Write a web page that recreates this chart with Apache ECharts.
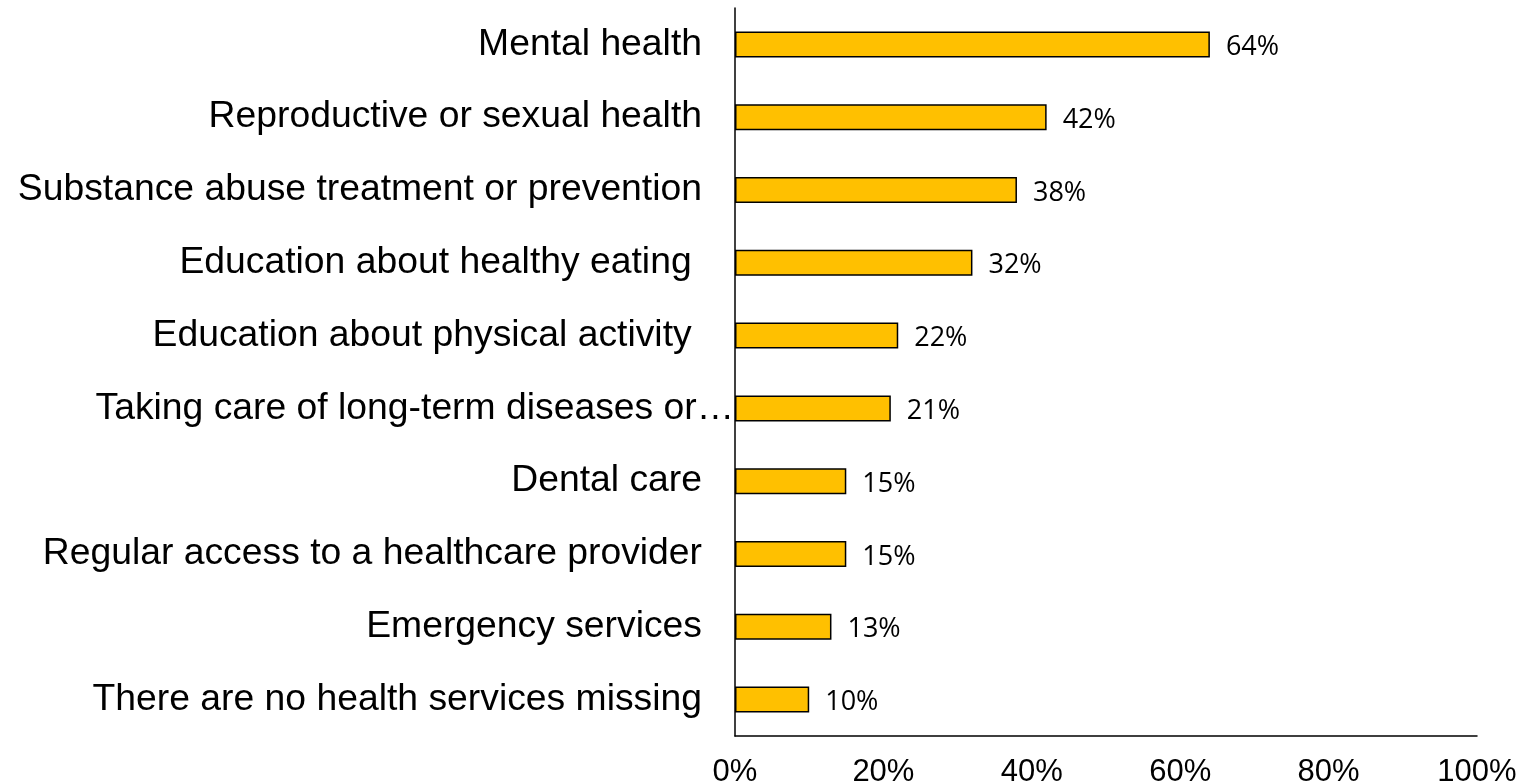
<!DOCTYPE html>
<html>
<head>
<meta charset="utf-8">
<script src="https://cdn.jsdelivr.net/npm/echarts@6/dist/echarts.min.js"></script>
<style>
  html, body { margin: 0; padding: 0; background: #fff; }
  #chart { width: 1522px; height: 783px; }
</style>
</head>
<body>
<div id="chart"></div>
<script>
// top to bottom, as in the picture
const categories = [
  "Mental health",
  "Reproductive or sexual health",
  "Substance abuse treatment or prevention",
  "Education about healthy eating ",
  "Education about physical activity ",
  "Taking care of long-term diseases or…",
  "Dental care",
  "Regular access to a healthcare provider",
  "Emergency services",
  "There are no health services missing",
];
const values = [64, 42, 38, 32, 22, 21, 15, 15, 13, 10];
const xTicks = [0, 20, 40, 60, 80, 100];

const chart = echarts.init(document.getElementById("chart"));

chart.setOption({
  animation: false,
  grid: { left: 735, right: 45, top: 8, bottom: 47, outerBoundsMode: "none" },
  xAxis: {
    type: "value",
    min: xTicks[0],
    max: xTicks[xTicks.length - 1],
    interval: xTicks[1] - xTicks[0],
    axisLine: { show: true, lineStyle: { color: "#000", width: 1.5 } },
    axisTick: { show: false },
    splitLine: { show: false },
    axisLabel: {
      margin: 21,
      color: "#000",
      fontSize: 31,
      fontFamily: "'Liberation Sans Narrow', 'Liberation Sans', Arial, sans-serif",
      formatter: (v) => v + "%",
    },
  },
  yAxis: {
    type: "category",
    inverse: true,
    data: categories,
    axisLine: { show: true, lineStyle: { color: "#000", width: 1.5 } },
    axisTick: { show: false },
    axisLabel: {
      margin: 0,
      color: "#000",
      fontSize: 37.3,
      fontFamily: "'Liberation Sans', Arial, sans-serif",
      formatter: (v) => (v.endsWith("…") ? "{t|" + v + "}" : "{n|" + v + "}"),
      rich: {
        n: { padding: [0, 33, 0, 0] },
        t: { padding: [0, 1, 0, 0] },
      },
    },
  },
  series: [
    {
      type: "bar",
      data: values,
      barWidth: 26,
      itemStyle: { color: "#FFC000", borderColor: "#000", borderWidth: 1.5 },
      label: {
        show: true,
        position: "right",
        distance: 16,
        offset: [0, 3],
        color: "#000",
        fontSize: 27,
        fontFamily: "'Open Sans', 'Noto Sans', sans-serif",
        formatter: (p) => p.value + "%",
      },
    },
  ],
});
</script>
</body>
</html>
